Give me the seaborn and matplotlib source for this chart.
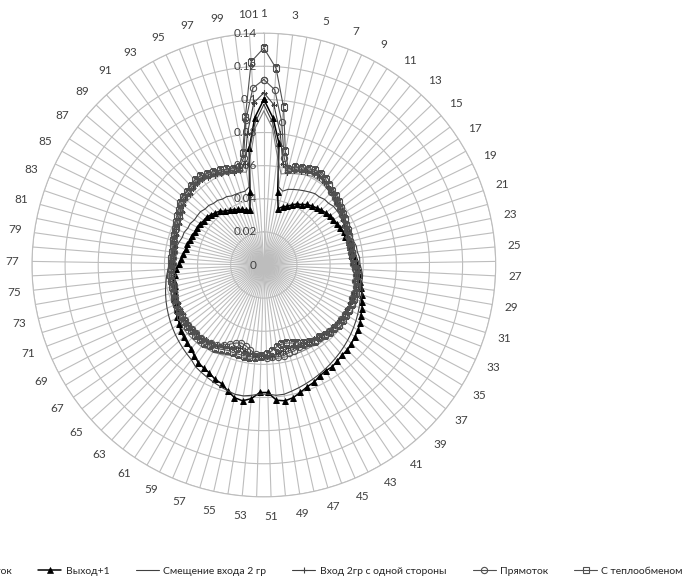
import numpy as np
import matplotlib
matplotlib.use("Agg")
import matplotlib.pyplot as plt
import seaborn as sns

sns.set_theme(style="white")
plt.rcParams['font.family'] = ['Lato', 'DejaVu Sans']

# категории 1..101
categories = list(range(1, 102))
r_ticks = [0, 0.02, 0.04, 0.06, 0.08, 0.1, 0.12, 0.14]
r_labels = ['0', '0.02', '0.04', '0.06', '0.08', '0.1', '0.12', '0.14']

protivotok = [
    0.093, 0.083, 0.066, 0.056, 0.057, 0.058, 0.059, 0.060, 0.061, 0.061,
    0.061, 0.060, 0.059, 0.058, 0.057, 0.056, 0.056, 0.055, 0.055, 0.055,
    0.055, 0.055, 0.055, 0.056, 0.056, 0.057, 0.058, 0.058, 0.059, 0.059,
    0.060, 0.060, 0.060, 0.060, 0.060, 0.060, 0.059, 0.059, 0.059, 0.058,
    0.058, 0.058, 0.057, 0.057, 0.057, 0.057, 0.057, 0.057, 0.057, 0.057,
    0.057, 0.057, 0.057, 0.057, 0.057, 0.058, 0.058, 0.059, 0.060, 0.061,
    0.061, 0.062, 0.062, 0.062, 0.062, 0.062, 0.061, 0.061, 0.060, 0.060,
    0.059, 0.059, 0.058, 0.058, 0.058, 0.057, 0.057, 0.057, 0.057, 0.057,
    0.057, 0.058, 0.058, 0.059, 0.059, 0.060, 0.061, 0.062, 0.062, 0.063,
    0.063, 0.063, 0.062, 0.061, 0.061, 0.060, 0.059, 0.058, 0.057, 0.066,
    0.083]

vyhod = [
    0.100, 0.089, 0.074, 0.045, 0.035, 0.037, 0.038, 0.040, 0.042, 0.043,
    0.045, 0.046, 0.047, 0.048, 0.049, 0.050, 0.050, 0.051, 0.051, 0.052,
    0.052, 0.053, 0.053, 0.054, 0.055, 0.056, 0.057, 0.058, 0.059, 0.060,
    0.062, 0.063, 0.065, 0.066, 0.068, 0.069, 0.070, 0.071, 0.072, 0.072,
    0.073, 0.074, 0.074, 0.075, 0.077, 0.078, 0.080, 0.082, 0.083, 0.082,
    0.077, 0.077, 0.081, 0.083, 0.082, 0.079, 0.076, 0.075, 0.073, 0.072,
    0.071, 0.069, 0.067, 0.066, 0.065, 0.064, 0.062, 0.061, 0.059, 0.058,
    0.057, 0.056, 0.055, 0.055, 0.054, 0.053, 0.051, 0.050, 0.049, 0.048,
    0.048, 0.047, 0.047, 0.046, 0.046, 0.046, 0.045, 0.045, 0.044, 0.043,
    0.042, 0.040, 0.039, 0.038, 0.037, 0.036, 0.035, 0.034, 0.045, 0.071,
    0.089]

smeshchenie = [
    0.097, 0.086, 0.070, 0.048, 0.046, 0.048, 0.049, 0.050, 0.051, 0.052,
    0.053, 0.053, 0.054, 0.054, 0.055, 0.055, 0.055, 0.055, 0.056, 0.056,
    0.056, 0.056, 0.057, 0.057, 0.058, 0.058, 0.059, 0.060, 0.060, 0.061,
    0.062, 0.062, 0.063, 0.064, 0.065, 0.066, 0.067, 0.068, 0.069, 0.070,
    0.071, 0.072, 0.073, 0.074, 0.075, 0.076, 0.077, 0.078, 0.079, 0.079,
    0.078, 0.078, 0.079, 0.080, 0.080, 0.079, 0.078, 0.077, 0.076, 0.075,
    0.074, 0.072, 0.071, 0.070, 0.069, 0.068, 0.067, 0.066, 0.065, 0.064,
    0.063, 0.062, 0.061, 0.060, 0.059, 0.058, 0.057, 0.056, 0.055, 0.054,
    0.053, 0.052, 0.052, 0.051, 0.051, 0.050, 0.050, 0.050, 0.049, 0.049,
    0.048, 0.048, 0.047, 0.047, 0.046, 0.046, 0.046, 0.046, 0.048, 0.070,
    0.086]

vhod = [
    0.104, 0.097, 0.080, 0.062, 0.058, 0.060, 0.061, 0.062, 0.063, 0.063,
    0.062, 0.061, 0.060, 0.059, 0.058, 0.057, 0.056, 0.055, 0.054, 0.054,
    0.053, 0.053, 0.053, 0.053, 0.053, 0.054, 0.055, 0.056, 0.056, 0.057,
    0.057, 0.057, 0.057, 0.057, 0.057, 0.057, 0.056, 0.056, 0.056, 0.055,
    0.055, 0.054, 0.054, 0.053, 0.053, 0.052, 0.052, 0.053, 0.054, 0.055,
    0.055, 0.055, 0.055, 0.054, 0.053, 0.052, 0.053, 0.054, 0.055, 0.056,
    0.057, 0.057, 0.058, 0.058, 0.058, 0.058, 0.058, 0.057, 0.057, 0.057,
    0.057, 0.056, 0.056, 0.056, 0.055, 0.055, 0.055, 0.055, 0.055, 0.055,
    0.056, 0.056, 0.057, 0.057, 0.058, 0.059, 0.061, 0.062, 0.062, 0.063,
    0.064, 0.064, 0.063, 0.062, 0.061, 0.060, 0.059, 0.059, 0.062, 0.080,
    0.098]

pryamotok = [
    0.112, 0.106, 0.087, 0.066, 0.059, 0.061, 0.062, 0.063, 0.064, 0.064,
    0.063, 0.062, 0.060, 0.059, 0.058, 0.057, 0.056, 0.056, 0.055, 0.054,
    0.054, 0.053, 0.053, 0.053, 0.054, 0.054, 0.055, 0.056, 0.056, 0.057,
    0.057, 0.057, 0.058, 0.058, 0.057, 0.057, 0.057, 0.057, 0.056, 0.056,
    0.055, 0.055, 0.054, 0.054, 0.054, 0.055, 0.055, 0.056, 0.056, 0.056,
    0.056, 0.055, 0.054, 0.052, 0.050, 0.049, 0.050, 0.052, 0.054, 0.056,
    0.057, 0.058, 0.058, 0.058, 0.058, 0.058, 0.058, 0.058, 0.058, 0.058,
    0.057, 0.057, 0.056, 0.056, 0.056, 0.056, 0.055, 0.055, 0.055, 0.056,
    0.056, 0.057, 0.057, 0.058, 0.059, 0.060, 0.062, 0.063, 0.063, 0.064,
    0.065, 0.065, 0.064, 0.063, 0.062, 0.061, 0.060, 0.060, 0.066, 0.088,
    0.107]

teploobmen = [
    0.131, 0.119, 0.096, 0.070, 0.060, 0.062, 0.063, 0.064, 0.065, 0.065,
    0.064, 0.062, 0.061, 0.060, 0.059, 0.058, 0.057, 0.056, 0.055, 0.055,
    0.054, 0.054, 0.054, 0.054, 0.054, 0.055, 0.056, 0.057, 0.057, 0.058,
    0.058, 0.058, 0.058, 0.058, 0.058, 0.058, 0.058, 0.057, 0.057, 0.056,
    0.055, 0.055, 0.054, 0.053, 0.051, 0.050, 0.049, 0.049, 0.050, 0.052,
    0.054, 0.055, 0.056, 0.056, 0.056, 0.056, 0.056, 0.056, 0.057, 0.058,
    0.058, 0.059, 0.059, 0.059, 0.059, 0.059, 0.059, 0.059, 0.059, 0.058,
    0.058, 0.057, 0.057, 0.057, 0.057, 0.056, 0.056, 0.056, 0.056, 0.056,
    0.057, 0.057, 0.058, 0.059, 0.060, 0.061, 0.063, 0.064, 0.064, 0.065,
    0.066, 0.066, 0.065, 0.064, 0.063, 0.062, 0.061, 0.061, 0.069, 0.090,
    0.123]

series_names = ['Противоток', 'Выход+1', 'Смещение входа 2 гр',
                'Вход 2гр с одной стороны', 'Прямоток', 'С теплообменом']
series_values = [protivotok, vyhod, smeshchenie, vhod, pryamotok, teploobmen]

# стили серий
styles = [
    dict(color='#7f7f7f', lw=0.8, marker=None),
    dict(color='black', lw=1.1, marker='^', markersize=5, mfc='black', mec='black', mew=0.5),
    dict(color='#404040', lw=0.8, marker=None),
    dict(color='#404040', lw=0.8, marker='+', markersize=5, mec='#404040', mew=0.8),
    dict(color='#505050', lw=0.8, marker='o', markersize=4.5, mfc='none', mec='#505050', mew=0.8),
    dict(color='#505050', lw=0.8, marker='s', markersize=5, mfc='none', mec='#505050', mew=0.8),
]

n = len(categories)
theta = np.linspace(0, 2 * np.pi, n, endpoint=False)
theta_closed = np.append(theta, 2 * np.pi)

fig = plt.figure(figsize=(6.86, 5.78), dpi=100)
ax = fig.add_axes([0.0466, 0.140, 0.676, 0.803], projection='polar')
ax.set_theta_zero_location('N')
ax.set_theta_direction(-1)

for name, vals, st in zip(series_names, series_values, styles):
    st = dict(st)
    marker = st.pop('marker')
    kw = {}
    if marker is not None:
        kw = dict(marker=marker, markersize=st.pop('markersize'),
                  markeredgecolor=st.pop('mec'), markeredgewidth=st.pop('mew'))
        if 'mfc' in st:
            kw['markerfacecolor'] = st.pop('mfc')
    sns.lineplot(x=theta_closed, y=np.append(vals, vals[0]), ax=ax,
                 sort=False, estimator=None, color=st['color'], linewidth=st['lw'],
                 label=name, **kw)

ax.set_ylim(0, 0.14)
ax.set_yticks(r_ticks)
ax.set_yticklabels([])
for r, lab in zip(r_ticks, r_labels):
    ax.annotate(lab, xy=(0, r), xytext=(-5, 0), textcoords='offset points',
                ha='right', va='center', fontsize=8.5, color='#404040', zorder=10)

ax.set_xticks(theta)
ax.set_xticklabels([str(c) if c % 2 == 1 else '' for c in categories],
                   fontsize=8.5, color='#404040')
ax.tick_params(axis='x', pad=1)
ax.grid(True, color='#bdbdbd', linewidth=0.8)
ax.spines['polar'].set_color('#bdbdbd')
ax.spines['polar'].set_linewidth(0.8)

handles, labels = ax.get_legend_handles_labels()
ax.get_legend().remove()
fig.legend(handles, labels, loc='center left', bbox_to_anchor=(-0.12, 0.012),
           ncol=6, frameon=False, fontsize=7.5, handlelength=2.2,
           columnspacing=2.55, handletextpad=0.4)

fig.savefig('out.png', dpi=100)
